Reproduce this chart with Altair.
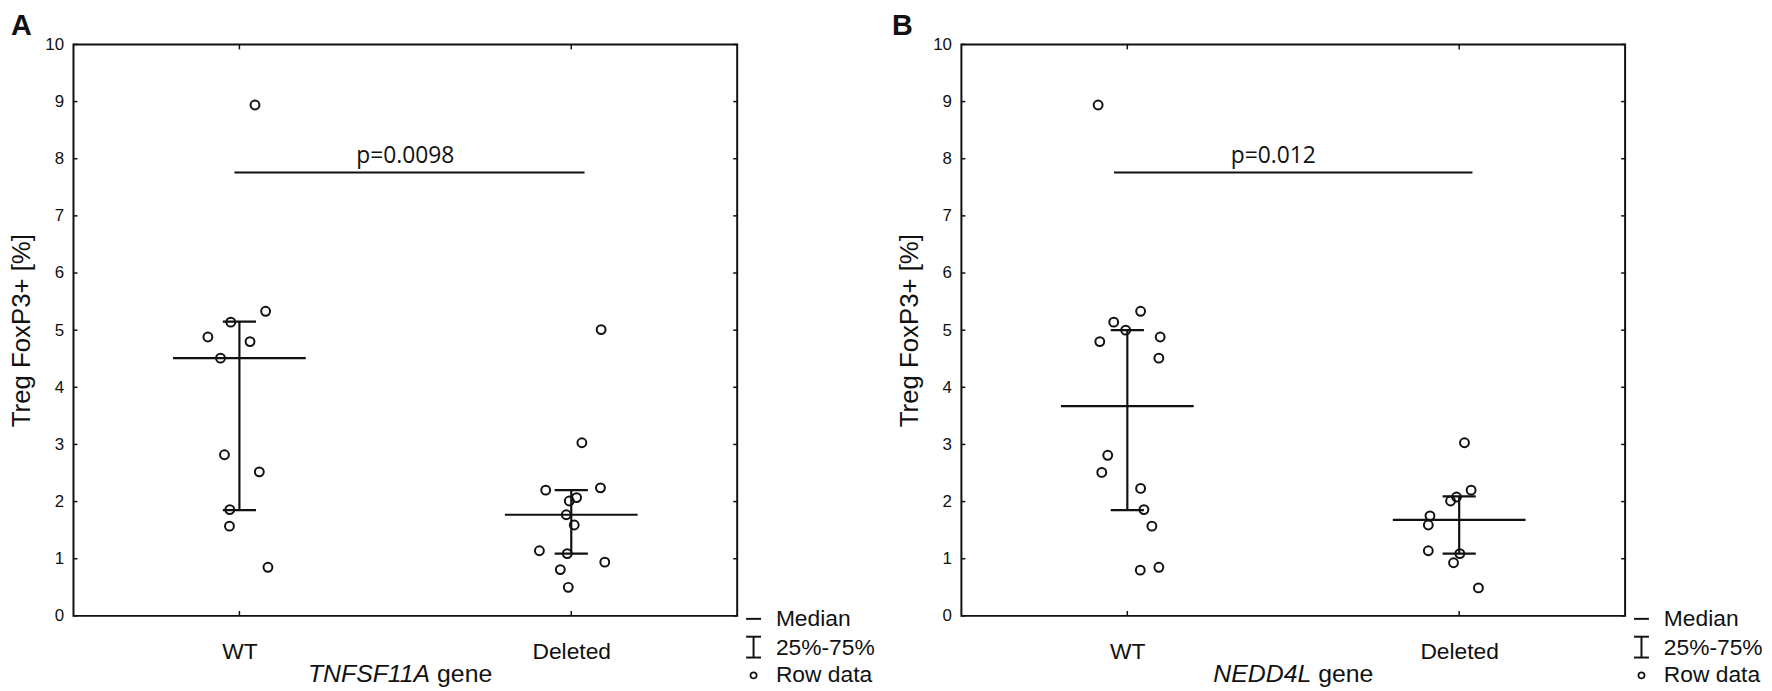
import altair as alt
import pandas as pd

CATS = ["WT", "Deleted"]
Y_TICKS = list(range(0, 11))
Y_TITLE = "Treg FoxP3+ [%]"
LEGEND_LABELS = ["Median", "25%-75%", "Row data"]

# ---- Panel A : TNFSF11A ----
A_WT = [8.94, 5.33, 5.14, 4.88, 4.80, 4.51, 2.82, 2.52, 1.86, 1.57, 0.85]
A_WT_JIT = [0.047, 0.079, -0.026, -0.095, 0.032, -0.057, -0.045, 0.060, -0.029, -0.030, 0.086]
A_DEL = [5.01, 3.03, 2.20, 2.24, 2.07, 2.01, 1.77, 1.59, 1.14, 1.09, 0.94, 0.81, 0.50]
A_DEL_JIT = [0.090, 0.032, -0.077, 0.088, 0.016, -0.006, -0.015, 0.009, -0.096, -0.012, 0.101, -0.033, -0.009]
A_MEDIAN = [4.51, 1.77]
A_Q1 = [1.85, 1.09]
A_Q3 = [5.15, 2.20]
A_P_TEXT = "p=0.0098"
A_P_Y = 7.76
A_P_X = [-0.015, 1.04]
A_P_TEXT_X = 0.5
A_GENE = "TNFSF11A"

# ---- Panel B : NEDD4L ----
B_WT = [8.94, 5.33, 5.14, 5.00, 4.88, 4.80, 4.51, 2.81, 2.51, 2.23, 1.86, 1.57, 0.85, 0.80]
B_WT_JIT = [-0.088, 0.040, -0.041, -0.005, 0.099, -0.083, 0.095, -0.059, -0.077, 0.040, 0.050, 0.074, 0.095, 0.039]
B_DEL = [3.03, 2.20, 2.08, 2.01, 1.75, 1.59, 1.14, 1.09, 0.93, 0.49]
B_DEL_JIT = [0.016, 0.036, -0.008, -0.026, -0.088, -0.093, -0.093, 0.002, -0.017, 0.058]
B_MEDIAN = [3.67, 1.68]
B_Q1 = [1.85, 1.09]
B_Q3 = [5.00, 2.09]
B_P_TEXT = "p=0.012"
B_P_Y = 7.76
B_P_X = [-0.04, 1.04]
B_P_TEXT_X = 0.44
B_GENE = "NEDD4L"

W, H = 669, 576
INK = "#111111"
FONT = "Liberation Sans"

label_expr = "datum.value == 0 ? '%s' : '%s'" % (CATS[0], CATS[1])


def panel(letter, letter_x, gene, gene_right, wt, wt_j, dl, dl_j, med, q1, q3,
          ptext, px, py, ptx):
    xs = alt.Scale(domain=[-0.5, 1.5], nice=False, zero=False)
    ys = alt.Scale(domain=[0, 10], nice=False, zero=False)
    xaxis = alt.Axis(values=[0, 1], labelExpr=label_expr, title=None, grid=False,
                     domain=False, ticks=False, tickSize=0, labelFont=FONT,
                     labelFontSize=23, labelColor=INK, labelPadding=25)
    yaxis = alt.Axis(values=Y_TICKS, title=Y_TITLE, grid=False, domain=False,
                     ticks=False, tickSize=0, labelFont=FONT, labelFontSize=17,
                     labelColor=INK, labelPadding=10, titleFont=FONT,
                     titleFontSize=26, titleFontWeight="normal", titleColor=INK,
                     titleX=-52, titleY=H / 2, titleAngle=270,
                     titleBaseline="middle", titleAlign="center")

    pts = pd.DataFrame({
        "pos": [0] * len(wt) + [1] * len(dl),
        "jit": list(wt_j) + list(dl_j),
        "val": list(wt) + list(dl),
    })
    stats = pd.DataFrame({"pos": [0, 1], "median": med, "q1": q1, "q3": q3})
    caps = pd.DataFrame({"pos": [0, 1, 0, 1], "val": list(q1) + list(q3)})
    yt = pd.DataFrame({"t": Y_TICKS})
    xt = pd.DataFrame({"pos": [0, 1]})
    pdf = pd.DataFrame({"x1": [px[0]], "x2": [px[1]], "y": [py], "tx": [ptx], "label": [ptext]})
    one = pd.DataFrame({"a": [0]})

    points = alt.Chart(pts).transform_calculate(x="datum.pos + datum.jit").mark_point(
        shape="circle", filled=False, color=INK, size=80, strokeWidth=2, opacity=1
    ).encode(x=alt.X("x:Q", scale=xs, axis=xaxis), y=alt.Y("val:Q", scale=ys, axis=yaxis))

    median = alt.Chart(stats).transform_calculate(
        xa="datum.pos - 0.2", xb="datum.pos + 0.2"
    ).mark_rule(color=INK, strokeWidth=2.2).encode(
        x=alt.X("xa:Q", scale=xs, axis=xaxis), x2="xb:Q",
        y=alt.Y("median:Q", scale=ys, axis=yaxis))

    whisk = alt.Chart(stats).mark_rule(color=INK, strokeWidth=2.2).encode(
        x=alt.X("pos:Q", scale=xs, axis=xaxis),
        y=alt.Y("q1:Q", scale=ys, axis=yaxis), y2="q3:Q")

    capm = alt.Chart(caps).transform_calculate(
        xa="datum.pos - 0.05", xb="datum.pos + 0.05"
    ).mark_rule(color=INK, strokeWidth=2.2).encode(
        x=alt.X("xa:Q", scale=xs, axis=xaxis), x2="xb:Q",
        y=alt.Y("val:Q", scale=ys, axis=yaxis))

    pbar = alt.Chart(pdf).mark_rule(color=INK, strokeWidth=2).encode(
        x=alt.X("x1:Q", scale=xs, axis=xaxis), x2="x2:Q",
        y=alt.Y("y:Q", scale=ys, axis=yaxis))
    ptxt = alt.Chart(pdf).mark_text(font="Open Sans", fontSize=23, color=INK,
                                    baseline="alphabetic", dy=-10).encode(
        x=alt.X("tx:Q", scale=xs, axis=xaxis), y=alt.Y("y:Q", scale=ys, axis=yaxis),
        text="label:N")

    ltick = alt.Chart(yt).mark_rule(color=INK, strokeWidth=1.5).encode(
        y=alt.Y("t:Q", scale=ys, axis=yaxis), x=alt.value(0), x2=alt.value(4))
    rtick = alt.Chart(yt).mark_rule(color=INK, strokeWidth=1.5).encode(
        y=alt.Y("t:Q", scale=ys, axis=yaxis), x=alt.value(W - 4), x2=alt.value(W))
    ttick = alt.Chart(xt).mark_rule(color=INK, strokeWidth=1.5).encode(
        x=alt.X("pos:Q", scale=xs, axis=xaxis), y=alt.value(0), y2=alt.value(5))
    btick = alt.Chart(xt).mark_rule(color=INK, strokeWidth=1.5).encode(
        x=alt.X("pos:Q", scale=xs, axis=xaxis), y=alt.value(H - 5), y2=alt.value(H))

    let = alt.Chart(one).mark_text(font=FONT, fontSize=29, fontWeight="bold", color=INK,
                                   align="left", baseline="alphabetic", text=letter).encode(
        x=alt.value(letter_x), y=alt.value(-10))

    g1 = alt.Chart(one).mark_text(font=FONT, fontSize=25, fontStyle="italic", color=INK,
                                  align="right", baseline="alphabetic", text=gene).encode(
        x=alt.value(gene_right), y=alt.value(H + 67))
    g2 = alt.Chart(one).mark_text(font=FONT, fontSize=25, color=INK,
                                  align="left", baseline="alphabetic", text="gene").encode(
        x=alt.value(gene_right + 7), y=alt.value(H + 67))

    # legend (bottom right, outside plot)
    lx0, lx1, lxc, ltx = W + 9, W + 24, W + 16.5, W + 39
    leg_med = alt.Chart(one).mark_rule(color=INK, strokeWidth=2).encode(
        x=alt.value(lx0), x2=alt.value(lx1), y=alt.value(H + 3))
    leg_v = alt.Chart(one).mark_rule(color=INK, strokeWidth=2).encode(
        x=alt.value(lxc), y=alt.value(H + 21), y2=alt.value(H + 42))
    leg_c1 = alt.Chart(one).mark_rule(color=INK, strokeWidth=2).encode(
        x=alt.value(lx0), x2=alt.value(lx1), y=alt.value(H + 21))
    leg_c2 = alt.Chart(one).mark_rule(color=INK, strokeWidth=2).encode(
        x=alt.value(lx0), x2=alt.value(lx1), y=alt.value(H + 42))
    leg_pt = alt.Chart(one).mark_point(shape="circle", filled=False, color=INK, size=38,
                                       strokeWidth=1.8, opacity=1).encode(
        x=alt.value(lxc), y=alt.value(H + 60))
    leg_t = [alt.Chart(one).mark_text(font=FONT, fontSize=23, color=INK, align="left",
                                      baseline="middle", text=t).encode(
        x=alt.value(ltx), y=alt.value(yy))
        for t, yy in zip(LEGEND_LABELS, [H + 3, H + 32, H + 60])]

    return alt.layer(points, median, whisk, capm, pbar, ptxt, ltick, rtick, ttick, btick,
                     let, g1, g2, leg_med, leg_v, leg_c1, leg_c2, leg_pt, *leg_t
                     ).properties(width=W, height=H)


pA = panel("A", -63, A_GENE, 359.5, A_WT, A_WT_JIT, A_DEL, A_DEL_JIT, A_MEDIAN, A_Q1, A_Q3,
           A_P_TEXT, A_P_X, A_P_Y, A_P_TEXT_X)
pB = panel("B", -70, B_GENE, 352.6, B_WT, B_WT_JIT, B_DEL, B_DEL_JIT, B_MEDIAN, B_Q1, B_Q3,
           B_P_TEXT, B_P_X, B_P_Y, B_P_TEXT_X)

chart = alt.hconcat(pA, pB, spacing=15).properties(
    padding={"left": 0, "top": 0, "right": 0, "bottom": 0},
    background="white",
).configure_view(stroke=INK, strokeWidth=2)

chart.save("out.html", embed_options={"renderer": "svg", "actions": False})
